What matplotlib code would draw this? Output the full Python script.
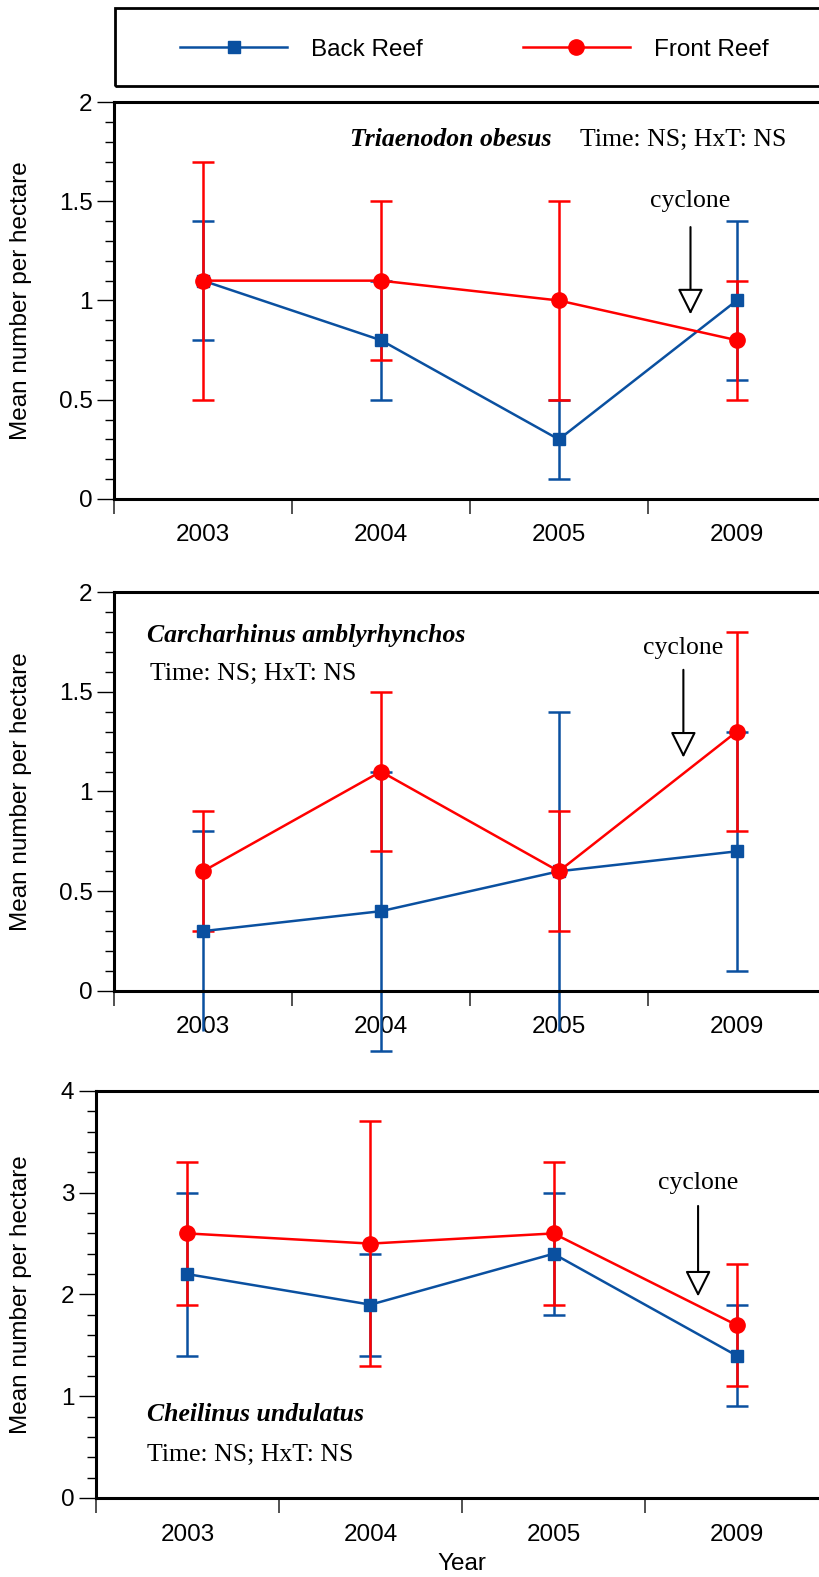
import matplotlib.pyplot as plt
from matplotlib.patches import Rectangle
from matplotlib.lines import Line2D
from matplotlib.ticker import MultipleLocator, FuncFormatter, FixedLocator, NullFormatter
import numpy as np

plt.rcParams['font.family'] = ['Liberation Sans', 'DejaVu Sans']

years = ['2003', '2004', '2005', '2009']

# Triaenodon obesus
tri_back = [1.1, 0.8, 0.3, 1.0]
tri_back_lo = [0.8, 0.5, 0.1, 0.6]
tri_back_hi = [1.4, 1.1, 0.5, 1.4]
tri_front = [1.1, 1.1, 1.0, 0.8]
tri_front_lo = [0.5, 0.7, 0.5, 0.5]
tri_front_hi = [1.7, 1.5, 1.5, 1.1]

# Carcharhinus amblyrhynchos
car_back = [0.3, 0.4, 0.6, 0.7]
car_back_lo = [-0.2, -0.3, -0.2, 0.1]
car_back_hi = [0.8, 1.1, 1.4, 1.3]
car_front = [0.6, 1.1, 0.6, 1.3]
car_front_lo = [0.3, 0.7, 0.3, 0.8]
car_front_hi = [0.9, 1.5, 0.9, 1.8]
car_back_nocap = [0, 2]  # lower caps not drawn in the original

# Cheilinus undulatus
che_back = [2.2, 1.9, 2.4, 1.4]
che_back_lo = [1.4, 1.4, 1.8, 0.9]
che_back_hi = [3.0, 2.4, 3.0, 1.9]
che_front = [2.6, 2.5, 2.6, 1.7]
che_front_lo = [1.9, 1.3, 1.9, 1.1]
che_front_hi = [3.3, 3.7, 3.3, 2.3]

BLUE = '#0a50a0'
RED = '#ff0000'
SERIF = ['Liberation Serif', 'DejaVu Serif']
FS = 17.5
FS_SERIF = 18.5


def series(ax, y, lo, hi, color, marker, ms, nocap=()):
    x = np.arange(len(y)) + 0.5
    y = np.array(y)
    err = [y - np.array(lo), np.array(hi) - y]
    eb = ax.errorbar(x, y, yerr=err, color=color, marker=marker, ms=ms, lw=1.8,
                     elinewidth=1.8, capsize=8, capthick=1.8)
    for art in [eb[0]] + list(eb[1]) + list(eb[2]):
        art.set_clip_on(False)
    if nocap:
        lo_cap = eb[1][0]
        yd = np.array(lo_cap.get_ydata(), dtype=float)
        yd[list(nocap)] = np.nan
        lo_cap.set_ydata(yd)
    return eb


def style_axes(ax, ymax, major, minor, xpad):
    ax.set_xlim(0, 4)
    ax.set_ylim(0, ymax)
    ax.xaxis.set_major_locator(FixedLocator([0, 1, 2, 3, 4]))
    ax.xaxis.set_major_formatter(NullFormatter())
    ax.xaxis.set_minor_locator(FixedLocator(np.arange(len(years)) + 0.5))
    ax.set_xticklabels(years, minor=True)
    ax.tick_params(axis='x', which='major', length=11, width=1.2, color='#333333', direction='out')
    ax.tick_params(axis='x', which='minor', length=0, pad=xpad, labelsize=FS)
    ax.yaxis.set_major_locator(MultipleLocator(major))
    ax.yaxis.set_minor_locator(MultipleLocator(minor))
    ax.yaxis.set_major_formatter(FuncFormatter(lambda v, p: '{:g}'.format(v)))
    ax.tick_params(axis='y', which='major', length=12, width=1, pad=3.5, labelsize=FS)
    ax.tick_params(axis='y', which='minor', length=6.5, width=1)
    for s in ['top', 'left', 'bottom', 'right']:
        ax.spines[s].set_linewidth(2.2)
    ax.set_ylabel('Mean number per hectare', fontsize=FS)


def cyclone(ax, x, y0, y1, ty):
    ax.annotate('', xy=(x, y1), xytext=(x, y0),
                arrowprops=dict(arrowstyle='-|>,head_length=0.8,head_width=0.4',
                                mutation_scale=20, fc='white', ec='black', lw=1.5,
                                shrinkA=0, shrinkB=0))
    ax.text(x, ty, 'cyclone', family=SERIF, fontsize=FS_SERIF, ha='center', va='center')


fig = plt.figure(figsize=(8.19, 15.77), dpi=100)

# panel 1
ax1 = fig.add_axes([0.1392, 0.6836, 0.869, 0.2517])
series(ax1, tri_back, tri_back_lo, tri_back_hi, BLUE, 's', 9)
series(ax1, tri_front, tri_front_lo, tri_front_hi, RED, 'o', 11)
style_axes(ax1, 2, 0.5, 0.1, 18)
ax1.yaxis.set_label_coords(-0.115, 0.5)
ax1.text(2.46, 1.81, 'Triaenodon obesus', family=SERIF, fontsize=FS_SERIF,
         weight='bold', style='italic', ha='right', va='center')
ax1.text(2.62, 1.81, 'Time: NS; HxT: NS', family=SERIF, fontsize=FS_SERIF,
         ha='left', va='center')
cyclone(ax1, 3.24, 1.37, 0.93, 1.50)

# panel 2
ax2 = fig.add_axes([0.1392, 0.3716, 0.869, 0.2530])
series(ax2, car_back, car_back_lo, car_back_hi, BLUE, 's', 9, nocap=car_back_nocap)
series(ax2, car_front, car_front_lo, car_front_hi, RED, 'o', 11)
style_axes(ax2, 2, 0.5, 0.1, 18)
ax2.yaxis.set_label_coords(-0.115, 0.5)
ax2.text(0.185, 1.78, 'Carcharhinus amblyrhynchos', family=SERIF, fontsize=FS_SERIF,
         weight='bold', style='italic', ha='left', va='center')
ax2.text(0.2, 1.59, 'Time: NS; HxT: NS', family=SERIF, fontsize=FS_SERIF,
         ha='left', va='center')
cyclone(ax2, 3.2, 1.61, 1.17, 1.72)

# panel 3
ax3 = fig.add_axes([0.1172, 0.0501, 0.8938, 0.2581])
series(ax3, che_back, che_back_lo, che_back_hi, BLUE, 's', 9)
series(ax3, che_front, che_front_lo, che_front_hi, RED, 'o', 11)
style_axes(ax3, 4, 1, 0.2, 19)
ax3.yaxis.set_label_coords(-0.087, 0.5)
ax3.set_xlabel('Year', fontsize=FS)
ax3.xaxis.set_label_coords(0.5, -0.135)
ax3.text(0.28, 0.82, 'Cheilinus undulatus', family=SERIF, fontsize=FS_SERIF,
         weight='bold', style='italic', ha='left', va='center')
ax3.text(0.28, 0.42, 'Time: NS; HxT: NS', family=SERIF, fontsize=FS_SERIF,
         ha='left', va='center')
cyclone(ax3, 3.29, 2.87, 1.98, 3.10)

# legend box
fig.patches.append(Rectangle((0.1404, 0.9455), 0.9, 0.0495, transform=fig.transFigure,
                             fill=False, ec='black', lw=2))
handles = [Line2D([], [], color=BLUE, marker='s', ms=9, lw=1.8),
           Line2D([], [], color=RED, marker='o', ms=11, lw=1.8)]
fig.legend(handles, ['Back Reef', 'Front Reef'], loc='center left',
           bbox_to_anchor=(0.2050, 0.9685), ncol=2, frameon=False, fontsize=FS,
           borderpad=0, handlelength=4.4, handletextpad=1.0, columnspacing=4.1)

fig.savefig('out.png', dpi=100)
